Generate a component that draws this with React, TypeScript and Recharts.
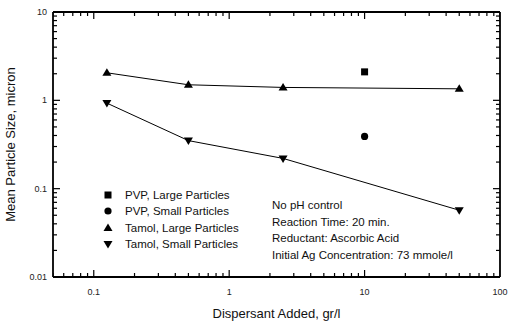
import React from 'react';
import { Legend, ReferenceLine, Scatter, ScatterChart, XAxis, YAxis } from 'recharts';

// dispersant concentration, gr/l
const tamolDose = [0.125, 0.5, 2.5, 50];
const tamolLarge = [2.05, 1.5, 1.4, 1.35];
const tamolSmall = [0.93, 0.35, 0.22, 0.057];
const pvpDose = [10];
const pvpLarge = [2.1];
const pvpSmall = [0.39];

const xMajor = [0.1, 1, 10, 100];
const yMajor = [0.01, 0.1, 1, 10];
const minorMult = [2, 3, 4, 5, 6, 7, 8, 9];

const notes = [
  'No pH control',
  'Reaction Time: 20 min.',
  'Reductant: Ascorbic Acid',
  'Initial Ag Concentration: 73 mmole/l',
];

const FONT = '"Liberation Sans", Arial, sans-serif';

const W = 510;
const H = 322;
const M = { top: 12, right: 10, bottom: 0, left: 0 };
const Y_AXIS_W = 53;
const X_AXIS_H = 45;
const X_DOMAIN = [0.05, 100];
const Y_DOMAIN = [0.01, 10];

const xTicks = [0.05, 0.06, 0.07, 0.08, 0.09, ...xMajor, ...xMajor.slice(0, 3).flatMap((d) => minorMult.map((m) => +(d * m).toPrecision(3)))].sort((a, b) => a - b);
const yTicks = [...yMajor, ...yMajor.slice(0, 3).flatMap((d) => minorMult.map((m) => +(d * m).toPrecision(3)))].sort((a, b) => a - b);

const toRows = (xs: number[], ys: number[]) => xs.map((x, i) => ({ x, y: ys[i] }));

const isMajor = (v: number) => Math.abs(Math.log10(v) - Math.round(Math.log10(v))) < 1e-6;
const tickLen = (v: number) => (isMajor(v) ? 7 : 4);

// tick marks are placed on the frame edges through the chart scales
const bottomTicks = xTicks.map((x) => ({ x, y: Y_DOMAIN[0] }));
const topTicks = xTicks.map((x) => ({ x, y: Y_DOMAIN[1] }));
const leftTicks = yTicks.map((y) => ({ x: X_DOMAIN[0], y }));
const rightTicks = yTicks.map((y) => ({ x: X_DOMAIN[1], y }));

function XTick({ x, y, payload }: any) {
  if (!isMajor(payload.value)) return <g />;
  return (
    <text x={x} y={y + 18} textAnchor="middle" fontSize={9} fontFamily={FONT} fill="#222">
      {String(payload.value)}
    </text>
  );
}

function YTick({ x, y, payload }: any) {
  if (!isMajor(payload.value)) return <g />;
  return (
    <text x={x - 6} y={y + 3} textAnchor="end" fontSize={9} fontFamily={FONT} fill="#222">
      {String(payload.value)}
    </text>
  );
}

function EdgeTick({ cx, cy, payload, side }: any) {
  if (cx == null || cy == null) return <g />;
  const t = 1.2;
  if (side === 'bottom') {
    const l = tickLen(payload.x);
    return <rect x={cx - t / 2} y={cy - l} width={t} height={l} fill="#000" />;
  }
  if (side === 'top') {
    const l = tickLen(payload.x);
    return <rect x={cx - t / 2} y={cy} width={t} height={l} fill="#000" />;
  }
  const l = tickLen(payload.y);
  if (side === 'left') return <rect x={cx} y={cy - t / 2} width={l} height={t} fill="#000" />;
  return <rect x={cx - l} y={cy - t / 2} width={l} height={t} fill="#000" />;
}

function Marker({ kind, cx, cy }: { kind: string; cx: number; cy: number }) {
  if (kind === 'square') return <rect x={cx - 3.5} y={cy - 3.5} width={7} height={7} fill="#000" />;
  if (kind === 'circle') return <circle cx={cx} cy={cy} r={3.6} fill="#000" />;
  if (kind === 'up') return <polygon points={`${cx},${cy - 4.5} ${cx + 4.5},${cy + 3} ${cx - 4.5},${cy + 3}`} fill="#000" />;
  return <polygon points={`${cx},${cy + 4.5} ${cx + 4.5},${cy - 3} ${cx - 4.5},${cy - 3}`} fill="#000" />;
}

const series = [
  { name: 'PVP, Large Particles', kind: 'square', data: toRows(pvpDose, pvpLarge), line: false },
  { name: 'PVP, Small Particles', kind: 'circle', data: toRows(pvpDose, pvpSmall), line: false },
  { name: 'Tamol, Large Particles', kind: 'up', data: toRows(tamolDose, tamolLarge), line: true },
  { name: 'Tamol, Small Particles', kind: 'down', data: toRows(tamolDose, tamolSmall), line: true },
];

const tickSeries = [
  { side: 'bottom', data: bottomTicks },
  { side: 'top', data: topTicks },
  { side: 'left', data: leftTicks },
  { side: 'right', data: rightTicks },
];

function LegendBox() {
  return (
    <div style={{ fontFamily: FONT, fontSize: 11.5, color: '#111' }}>
      {series.map((s) => (
        <div key={s.name} style={{ height: 16.3, display: 'flex', alignItems: 'center' }}>
          <svg width={22} height={12} style={{ marginRight: 5 }}>
            <Marker kind={s.kind} cx={10} cy={6} />
          </svg>
          <span>{s.name}</span>
        </div>
      ))}
    </div>
  );
}

const ref = { xAxisId: 'b', yAxisId: 'l', ifOverflow: 'visible' as const, stroke: '#000' };

export default function App() {
  return (
    <div style={{ position: 'absolute', left: 0, top: 0, width: W, height: H }}>
      <ScatterChart width={W} height={H} margin={M}>
        <XAxis
          xAxisId="b"
          dataKey="x"
          type="number"
          scale="log"
          domain={X_DOMAIN}
          allowDataOverflow
          ticks={xTicks}
          interval={0}
          height={X_AXIS_H}
          tickSize={0}
          tickMargin={0}
          tickLine={false}
          axisLine={false}
          tick={<XTick />}
          label={{ value: 'Dispersant Added, gr/l', position: 'insideBottom', offset: 4, fontSize: 13, fontFamily: FONT, fill: '#111' }}
        />
        <YAxis
          yAxisId="l"
          dataKey="y"
          type="number"
          scale="log"
          domain={Y_DOMAIN}
          allowDataOverflow
          ticks={yTicks}
          interval={0}
          width={Y_AXIS_W}
          tickSize={0}
          tickMargin={0}
          tickLine={false}
          axisLine={false}
          tick={<YTick />}
          label={{ value: 'Mean Particle Size, micron', angle: -90, position: 'insideLeft', offset: 10, fontSize: 13, fontFamily: FONT, fill: '#111', style: { textAnchor: 'middle' } }}
        />
        {/* frame */}
        <ReferenceLine {...ref} y={Y_DOMAIN[0]} strokeWidth={1.8} />
        <ReferenceLine {...ref} y={Y_DOMAIN[1]} strokeWidth={1.8} />
        <ReferenceLine {...ref} x={X_DOMAIN[0]} strokeWidth={1.8} />
        <ReferenceLine {...ref} x={X_DOMAIN[1]} strokeWidth={1.8} />
        {/* inward ticks on all four sides */}
        {tickSeries.map((t) => (
          <Scatter
            key={t.side}
            xAxisId="b"
            yAxisId="l"
            data={t.data}
            fill="#000"
            legendType="none"
            isAnimationActive={false}
            shape={(p: any) => <EdgeTick cx={p.cx} cy={p.cy} payload={p.payload} side={t.side} />}
          />
        ))}
        {series.map((s) => (
          <Scatter
            key={s.name}
            name={s.name}
            xAxisId="b"
            yAxisId="l"
            data={s.data}
            fill="#000"
            isAnimationActive={false}
            line={s.line ? { stroke: '#000', strokeWidth: 1 } : false}
            shape={(p: any) => <Marker kind={s.kind} cx={p.cx} cy={p.cy} />}
          />
        ))}
        <Legend
          layout="vertical"
          align="center"
          verticalAlign="middle"
          content={() => <LegendBox />}
          wrapperStyle={{ position: 'absolute', left: 98, top: 187, width: 170 }}
        />
      </ScatterChart>
      <div
        style={{
          position: 'absolute',
          left: 272,
          top: 197,
          fontFamily: FONT,
          fontSize: 11.5,
          lineHeight: '16.7px',
          color: '#111',
          whiteSpace: 'nowrap',
        }}
      >
        {notes.map((n) => (
          <div key={n}>{n}</div>
        ))}
      </div>
    </div>
  );
}
